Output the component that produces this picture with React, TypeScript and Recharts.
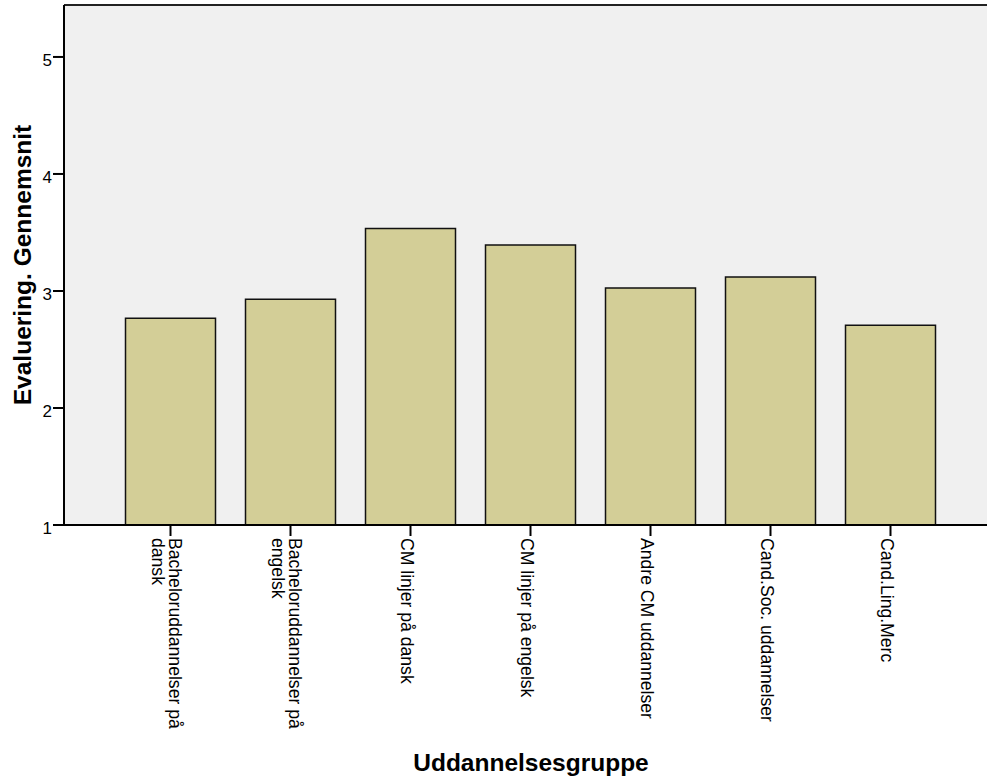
import * as React from 'react';
import { Bar, BarChart, CartesianGrid, Label, ReferenceLine, XAxis, YAxis } from 'recharts';

const categories = [
  'Bacheloruddannelser på\ndansk',
  'Bacheloruddannelser på\nengelsk',
  'CM linjer på dansk',
  'CM linjer på engelsk',
  'Andre CM uddannelser',
  'Cand.Soc. uddannelser',
  'Cand.Ling.Merc',
];
const means = [2.767, 2.929, 3.534, 3.393, 3.026, 3.12, 2.707];
const yTicks = [1, 2, 3, 4, 5];
const Y_MIN = 1;
const Y_MAX = 5.444;

const FONT = '"Liberation Sans", Arial, sans-serif';

const chartData = categories.map((name, i) => ({ name, value: means[i] }));

// category labels run downwards, lines stack to the left, block centred on the tick
function CategoryTick(props: any) {
  const { x, y, payload } = props;
  const lines = String(payload.value).split('\n');
  const lineHeight = 17.6;
  const first = 10 - ((lines.length - 1) * lineHeight) / 2;
  return (
    <text
      transform={`translate(${x},${y}) rotate(90)`}
      fontFamily={FONT}
      fontSize={17.6}
      fill="#000"
      textAnchor="start"
    >
      {lines.map((line, i) => (
        <tspan key={i} x={0} y={first + i * lineHeight}>
          {line}
        </tspan>
      ))}
    </text>
  );
}

function ValueTick(props: any) {
  const { x, y, payload } = props;
  return (
    <text x={x} y={y + 9} textAnchor="end" fontFamily={FONT} fontSize={17} fill="#000">
      {payload.value}
    </text>
  );
}

export default function App() {
  return (
    <div style={{ position: 'absolute', left: 0, top: 0, width: 987, height: 782, background: '#fff' }}>
      <BarChart
        width={987}
        height={782}
        data={chartData}
        margin={{ top: 5, right: 0, bottom: 0, left: 0 }}
      >
        <CartesianGrid fill="#F0F0F0" horizontal={false} vertical={false} />
        <XAxis
          dataKey="name"
          height={257}
          interval={0}
          padding={{ left: 46.5, right: 36.5 }}
          tickSize={11}
          tickMargin={2}
          axisLine={{ stroke: '#000', strokeWidth: 2 }}
          tickLine={{ stroke: '#000', strokeWidth: 2 }}
          tick={<CategoryTick />}
        >
          <Label
            content={() => (
              <text x={531} y={771} textAnchor="middle" fontFamily={FONT} fontWeight="bold" fontSize={24.5} fill="#000">
                Uddannelsesgruppe
              </text>
            )}
          />
        </XAxis>
        <YAxis
          width={64}
          domain={[Y_MIN, Y_MAX]}
          ticks={yTicks}
          allowDataOverflow
          tickSize={11}
          tickMargin={1}
          axisLine={{ stroke: '#000', strokeWidth: 2 }}
          tickLine={{ stroke: '#000', strokeWidth: 2 }}
          tick={<ValueTick />}
        >
          <Label
            content={() => (
              <text
                x={31}
                y={265}
                transform="rotate(-90, 31, 265)"
                textAnchor="middle"
                fontFamily={FONT}
                fontWeight="bold"
                fontSize={24.5}
                fill="#000"
              >
                Evaluering. Gennemsnit
              </text>
            )}
          />
        </YAxis>
        <ReferenceLine y={Y_MAX} stroke="#222" strokeWidth={2} />
        <Bar
          dataKey="value"
          barSize={90}
          fill="#D3CE97"
          stroke="#111"
          strokeWidth={1.5}
          isAnimationActive={false}
        />
      </BarChart>
    </div>
  );
}
